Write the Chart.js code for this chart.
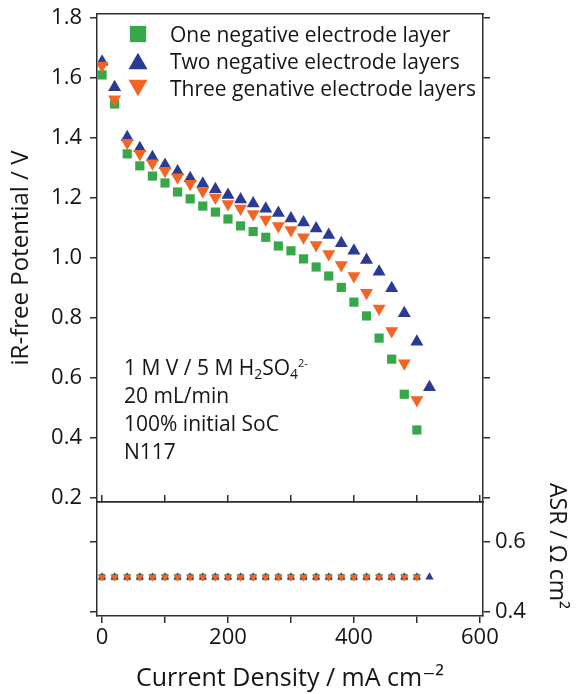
<!DOCTYPE html>
<html lang="en">
<head>
<meta charset="UTF-8">
<title>iR-free polarization curves and ASR</title>
<script src="https://cdn.jsdelivr.net/npm/chart.js@4.4.1/dist/chart.umd.min.js"></script>
<style>
  body { margin: 0; background: #fff; }
  #wrap { position: relative; width: 580px; height: 694px; }
  #wrap canvas { position: absolute; left: 0; top: 0; }
</style>
</head>
<body>
<div id="wrap">
  <canvas id="potChart" width="580" height="694"></canvas>
  <canvas id="asrChart" width="580" height="694"></canvas>
</div>
<script>
// current density, mA cm-2
var current = [0, 20, 40, 60, 80, 100, 120, 140, 160, 180, 200, 220, 240, 260,
               280, 300, 320, 340, 360, 380, 400, 420, 440, 460, 480, 500, 520];

// iR-free potential, V
var potOne = [1.610, 1.513, 1.347, 1.307, 1.273, 1.250, 1.220, 1.197, 1.173, 1.153, 1.130, 1.107, 1.088,
              1.069, 1.040, 1.024, 0.997, 0.970, 0.940, 0.902, 0.853, 0.807, 0.733, 0.663, 0.546, 0.427];
var potTwo = [1.654, 1.569, 1.402, 1.366, 1.336, 1.310, 1.288, 1.266, 1.247, 1.229, 1.210, 1.195, 1.182,
              1.164, 1.150, 1.132, 1.118, 1.098, 1.077, 1.049, 1.024, 0.993, 0.954, 0.899, 0.816, 0.721, 0.569];
var potThree = [1.641, 1.529, 1.384, 1.347, 1.316, 1.291, 1.269, 1.247, 1.223, 1.202, 1.180, 1.165, 1.147,
                1.128, 1.107, 1.093, 1.069, 1.043, 1.013, 0.977, 0.940, 0.884, 0.832, 0.757, 0.649, 0.527];

// ASR, ohm cm2
var asrOne = [0.5, 0.5, 0.5, 0.5, 0.5, 0.5, 0.5, 0.5, 0.5, 0.5, 0.5, 0.5, 0.5,
              0.5, 0.5, 0.5, 0.5, 0.5, 0.5, 0.5, 0.5, 0.5, 0.5, 0.5, 0.5, 0.5];
var asrTwo = [0.5, 0.5, 0.5, 0.5, 0.5, 0.5, 0.5, 0.5, 0.5, 0.5, 0.5, 0.5, 0.5,
              0.5, 0.5, 0.5, 0.5, 0.5, 0.5, 0.5, 0.5, 0.5, 0.5, 0.5, 0.5, 0.5, 0.5];
var asrThree = [0.5, 0.5, 0.5, 0.5, 0.5, 0.5, 0.5, 0.5, 0.5, 0.5, 0.5, 0.5, 0.5,
                0.5, 0.5, 0.5, 0.5, 0.5, 0.5, 0.5, 0.5, 0.5, 0.5, 0.5, 0.5, 0.5];

var seriesNames = ['One negative electrode layer', 'Two negative electrode layers', 'Three genative electrode layers'];

// axis ticks
var currentTicks = [0, 100, 200, 300, 400, 500, 600];
var currentLabels = ['0', '', '200', '', '400', '', '600'];
var potTicks = [0.2, 0.4, 0.6, 0.8, 1.0, 1.2, 1.4, 1.6, 1.8];
var asrTicks = [0.4, 0.6];

var green = '#37a849';
var blue = '#2b3a92';
var orange = '#f26524';
var frame = '#2e2e2e';
var ink = '#151515';
var fontFamily = '"Open Sans", "DejaVu Sans", sans-serif';

Chart.defaults.font.family = fontFamily;
Chart.defaults.color = ink;

function pairs(xs, ys) {
  return ys.map(function(y, i) { return { x: xs[i], y: y }; });
}
function fixedTicks(list) {
  return function(scale) {
    scale.ticks = list.map(function(v) { return { value: v }; });
  };
}
// pin every axis box to a set size so both panels share the same plot frame
function boxWidth(w) {
  return function(scale) {
    scale.width = w;
    scale.paddingTop = 0; scale.paddingBottom = 0;
  };
}
function boxHeight(h) {
  return function(scale) {
    scale.height = h;
    scale.paddingLeft = 0; scale.paddingRight = 0;
  };
}

var xRange = { min: -8, max: 605 };

// legend drawn inside the upper panel
var cornerLegend = {
  id: 'cornerLegend',
  afterDraw: function(chart) {
    var ctx = chart.ctx;
    var markerSize = [11.5, 11, 11];
    var markerShift = [0, 2.7, -2.7];
    ctx.save();
    chart.data.datasets.forEach(function(ds, i) {
      var rowY = 34 + i * 27;
      ctx.fillStyle = ds.backgroundColor;
      Chart.helpers.drawPoint(ctx, { pointStyle: ds.pointStyle, rotation: ds.rotation || 0,
        radius: markerSize[i], borderWidth: 0 }, 138, rowY + markerShift[i]);
      ctx.fillStyle = ink;
      ctx.font = '21px ' + fontFamily;
      ctx.textBaseline = 'alphabetic';
      ctx.fillText(ds.label, 170, rowY + 7.5);
    });
    ctx.restore();
  }
};

// experiment conditions text
var notes = [
  [{ t: '1 M V / 5 M H' }, { t: '2', sub: true }, { t: 'SO' }, { t: '4', sub: true }, { t: '2-', sup: true }],
  [{ t: '20 mL/min' }],
  [{ t: '100% initial SoC' }],
  [{ t: 'N117' }]
];
var noteBox = {
  id: 'noteBox',
  afterDraw: function(chart) {
    var ctx = chart.ctx;
    ctx.save();
    ctx.fillStyle = ink;
    ctx.textBaseline = 'alphabetic';
    notes.forEach(function(line, i) {
      var x = 124;
      var y = 375 + i * 28;
      line.forEach(function(run) {
        var size = run.sub ? 14 : run.sup ? 11 : 21;
        var dy = run.sub ? 4 : run.sup ? -8 : 0;
        ctx.font = size + 'px ' + fontFamily;
        ctx.fillText(run.t, x, y + dy);
        x += ctx.measureText(run.t).width;
      });
    });
    ctx.restore();
  }
};

var asrTitle = {
  id: 'asrTitle',
  afterDraw: function(chart) {
    var ctx = chart.ctx;
    ctx.save();
    ctx.translate(557, 546);
    ctx.rotate(Math.PI / 2);
    ctx.fillStyle = ink;
    ctx.font = '23px ' + fontFamily;
    ctx.textAlign = 'center';
    ctx.textBaseline = 'middle';
    ctx.fillText('ASR / \u03A9 cm\u00B2', 0, 0);
    ctx.restore();
  }
};

var lineStyle = { color: frame, lineWidth: 1.5 };
var borderStyle = { display: true, color: frame, width: 1.5 };

// upper panel: polarization curves
new Chart(document.getElementById('potChart'), {
  type: 'scatter',
  data: {
    datasets: [
      { label: seriesNames[0], data: pairs(current, potOne), pointStyle: 'rect', pointRadius: 6.5,
        backgroundColor: green, borderWidth: 0, order: 3 },
      { label: seriesNames[1], data: pairs(current, potTwo), pointStyle: 'triangle', pointRadius: 7.5,
        backgroundColor: blue, borderWidth: 0, order: 2 },
      { label: seriesNames[2], data: pairs(current, potThree), pointStyle: 'triangle', rotation: 180,
        pointRadius: 7.5, backgroundColor: orange, borderWidth: 0, order: 1 }
    ]
  },
  options: {
    responsive: false,
    animation: false,
    events: [],
    layout: { padding: 0, autoPadding: false },
    plugins: { legend: { display: false }, tooltip: { enabled: false } },
    scales: {
      x: {
        type: 'linear', position: 'bottom', min: xRange.min, max: xRange.max,
        afterBuildTicks: fixedTicks(currentTicks), afterFit: boxHeight(694 - 502),
        ticks: { display: false },
        grid: { drawOnChartArea: false, tickLength: -7, color: lineStyle.color, lineWidth: lineStyle.lineWidth },
        border: borderStyle
      },
      xTop: {
        type: 'linear', position: 'top', min: xRange.min, max: xRange.max,
        afterFit: boxHeight(14),
        ticks: { display: false }, grid: { display: false }, border: borderStyle
      },
      y: {
        type: 'linear', position: 'left', min: 0.187, max: 1.813,
        afterBuildTicks: fixedTicks(potTicks), afterFit: boxWidth(97),
        ticks: { font: { size: 22 }, padding: 8, callback: function(v) { return v.toFixed(1); } },
        grid: { drawOnChartArea: false, tickLength: 7, color: lineStyle.color, lineWidth: lineStyle.lineWidth },
        border: borderStyle,
        title: { display: true, text: 'iR-free Potential / V', font: { size: 24 }, padding: { top: 7 } }
      },
      yRight: {
        type: 'linear', position: 'right', min: 0.187, max: 1.813,
        afterBuildTicks: fixedTicks(potTicks), afterFit: boxWidth(97),
        ticks: { display: false },
        grid: { drawOnChartArea: false, tickLength: 7, color: lineStyle.color, lineWidth: lineStyle.lineWidth },
        border: borderStyle
      }
    }
  },
  plugins: [cornerLegend, noteBox]
});

// lower panel: area specific resistance
new Chart(document.getElementById('asrChart'), {
  type: 'scatter',
  data: {
    datasets: [
      { label: seriesNames[0], data: pairs(current, asrOne), pointStyle: 'rect', pointRadius: 4.5,
        backgroundColor: green, borderWidth: 0, order: 3 },
      { label: seriesNames[1], data: pairs(current, asrTwo), pointStyle: 'triangle', pointRadius: 4.8,
        backgroundColor: blue, borderWidth: 0, order: 2 },
      { label: seriesNames[2], data: pairs(current, asrThree), pointStyle: 'triangle', rotation: 180,
        pointRadius: 4.8, backgroundColor: orange, borderWidth: 0, order: 1 }
    ]
  },
  options: {
    responsive: false,
    animation: false,
    events: [],
    layout: { padding: 0, autoPadding: false },
    plugins: { legend: { display: false }, tooltip: { enabled: false } },
    scales: {
      x: {
        type: 'linear', position: 'bottom', min: xRange.min, max: xRange.max,
        afterBuildTicks: fixedTicks(currentTicks), afterFit: boxHeight(694 - 616),
        ticks: { font: { size: 22 }, padding: 2, autoSkip: false, maxRotation: 0,
                 callback: function(v, i) { return currentLabels[i]; } },
        grid: { drawOnChartArea: false, tickLength: 7, color: lineStyle.color, lineWidth: lineStyle.lineWidth },
        border: borderStyle,
        title: { display: true, text: 'Current Density / mA cm\u207B\u00B2', font: { size: 25 }, padding: { bottom: 0 } }
      },
      xTop: {
        type: 'linear', position: 'top', min: xRange.min, max: xRange.max,
        afterFit: boxHeight(502),
        ticks: { display: false }, grid: { display: false }, border: borderStyle
      },
      y: {
        type: 'linear', position: 'left', min: 0.389, max: 0.714,
        afterBuildTicks: fixedTicks(asrTicks), afterFit: boxWidth(97),
        ticks: { display: false },
        grid: { drawOnChartArea: false, tickLength: 7, color: lineStyle.color, lineWidth: lineStyle.lineWidth },
        border: borderStyle
      },
      yRight: {
        type: 'linear', position: 'right', min: 0.389, max: 0.714,
        afterBuildTicks: fixedTicks(asrTicks), afterFit: boxWidth(97),
        ticks: { font: { size: 22 }, padding: 5, callback: function(v) { return v.toFixed(1); } },
        grid: { drawOnChartArea: false, tickLength: 7, color: lineStyle.color, lineWidth: lineStyle.lineWidth },
        border: borderStyle
      }
    }
  },
  plugins: [asrTitle]
});
</script>
</body>
</html>
